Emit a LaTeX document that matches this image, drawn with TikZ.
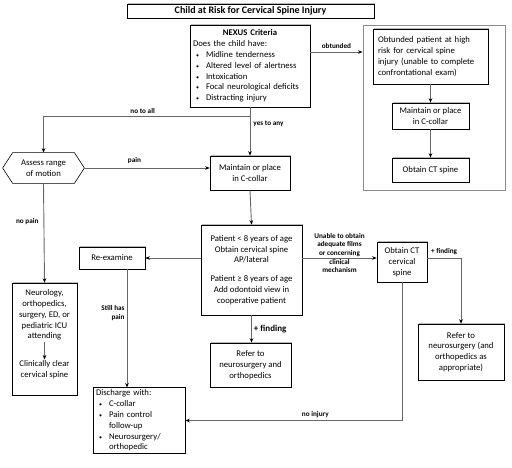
\documentclass[tikz,border=0pt]{standalone}
\usepackage{fontspec}
\setmainfont{Carlito}
\usetikzlibrary{arrows.meta,shadows}
\tikzset{every picture/.style={line width=0.75pt}}
\newcommand{\bul}{\makebox[10pt][l]{\fontsize{6}{6}\selectfont\textbullet}}

\begin{document}
\begin{tikzpicture}[x=1pt,y=1pt,yscale=-1,xscale=1,
  box/.style={draw=black, line width=0.6pt, fill=white, drop shadow={shadow xshift=1pt, shadow yshift=1pt, opacity=0.45, fill=black!60}, font=\fontsize{8.7}{10.8}\selectfont, inner sep=2pt, align=center},
  lbl/.style={font=\fontsize{7.2}{8.6}\selectfont\bfseries, inner sep=1pt},
  conn/.style={draw=black!60, line width=0.9pt},
  arr/.style={conn, -{Stealth[length=4.5pt,width=3.6pt,black]}}]
\useasboundingbox (0,0) rectangle (512,468);

% Title
\node[box, minimum width=247pt, minimum height=14pt, font=\fontsize{10}{12}\selectfont\bfseries] (title) at (250.5,11) {Child at Risk for Cervical Spine Injury};

% NEXUS criteria
\node[box, text width=114pt, inner xsep=3pt, minimum height=82pt, align=left] (nexus) at (250,66) {\makebox[\linewidth]{\bfseries NEXUS Criteria}\\ Does the child have:\\ \hspace*{3pt}\bul Midline tenderness\\ \hspace*{3pt}\bul Altered level of alertness\\ \hspace*{3pt}\bul Intoxication\\ \hspace*{3pt}\bul Focal neurological deficits\\ \hspace*{3pt}\bul Distracting injury};

% Obtunded branch
\node[draw=black!45, line width=0.9pt, minimum width=142pt, minimum height=165pt] (obtbox) at (434,107.5) {};
\node[box, text width=105pt, inner xsep=5pt, minimum height=55pt, align=left] (obt) at (430.5,56.5) {Obtunded patient at high\\ risk for cervical spine\\ injury (unable to complete\\ confrontational exam)};
\node[box, minimum width=77pt, minimum height=26pt] (obtcollar) at (430.5,116) {Maintain or place\\ in C-collar};
\node[box, minimum width=77pt, minimum height=24pt] (obtct) at (430.5,170) {Obtain CT spine};

% Assess range of motion
\node[minimum width=81pt, minimum height=30pt, inner sep=1pt, align=center, font=\fontsize{8.7}{10.8}\selectfont] (assess) at (43.5,168) {Assess range\\ of motion};
\draw[line width=0.6pt] (assess.west) -- ([xshift=10pt]assess.north west) -- ([xshift=-10pt]assess.north east) -- (assess.east) -- ([xshift=-10pt]assess.south east) -- ([xshift=10pt]assess.south west) -- cycle;

% Main column
\node[box, minimum width=80pt, minimum height=34pt] (collar) at (250,173) {Maintain or place\\ in C-collar};
\node[box, minimum width=101pt, minimum height=90pt] (patient) at (251.5,270) {Patient < 8 years of age\\ Obtain cervical spine\\ AP/lateral\\[8pt] Patient ≥ 8 years of age\\ Add odontoid view in\\ cooperative patient};
\node[box, minimum width=81pt, minimum height=44pt] (refer) at (250.5,365) {Refer to\\ neurosurgery and\\ orthopedics};
\node[box, minimum width=66pt, minimum height=22pt] (reexam) at (112,258) {Re-examine};

% Neurology box
\node[box, minimum width=65pt, minimum height=112pt] (neuro) at (44.5,339) {};
\node[inner sep=1pt, align=center, font=\fontsize{8.7}{10.8}\selectfont] (neurotxt) at (44.5,315) {Neurology,\\ orthopedics,\\ surgery, ED, or\\ pediatric ICU\\ attending};
\node[inner sep=1pt, align=center, font=\fontsize{8.7}{10.8}\selectfont] (clear) at (44.5,370) {Clinically clear\\ cervical spine};

% CT branch
\node[box, minimum width=50pt, minimum height=40pt] (ct) at (402,262) {Obtain CT\\ cervical\\ spine};
\node[box, minimum width=86pt, minimum height=56pt] (refercs) at (461,352) {Refer to\\ neurosurgery (and\\ orthopedics as\\ appropriate)};

% Discharge
\node[box, text width=86pt, inner xsep=3pt, minimum height=65pt, align=left] (discharge) at (139,420.5) {Discharge with:\\ \hspace*{3pt}\bul C-collar\\ \hspace*{3pt}\bul Pain control\\ \hspace*{13pt}follow-up\\ \hspace*{3pt}\bul Neurosurgery/\\ \hspace*{13pt}orthopedic};

% Connectors
\coordinate (split) at (250,116);
\draw[conn] (nexus.south) -- (split);
\draw[arr] (split) -| (assess.north) node[lbl, pos=0.26, above=1pt] {no to all};
\draw[arr] (split) -- (collar.north) node[lbl, pos=0.2, right=2pt] {yes to any};
\draw[arr] ([yshift=-14pt]nexus.east) -- ([yshift=-14pt]nexus.east -| obtbox.west) node[lbl, midway, above=2pt] {obtunded};
\draw[arr] (obt.south) -- (obtcollar.north);
\draw[arr] (obtcollar.south) -- (obtct.north);
\draw[arr] (assess.east) -- (assess.east -| collar.west) node[lbl, pos=0.4, above=3pt] {pain};
\draw[arr] (assess.south) -- (neuro.north) node[lbl, pos=0.38, left=4pt] {no pain};
\draw[arr] (neurotxt.south) -- (clear.north);
\draw[arr] (collar.south) -- (patient.north);
\draw[arr] (patient.west |- reexam.east) -- (reexam.east);
\draw[arr] (patient.east |- reexam.east) -- (ct.west |- reexam.east) node[lbl, midway, yshift=5pt, align=center] {Unable to obtain\\ adequate films\\ or concerning\\ clinical\\ mechanism};
\draw[arr] (ct.east |- reexam.east) -| (refercs.north) node[lbl, pos=0.25, above=2pt] {+ finding};
\draw[arr] (patient.south) -- (patient.south |- refer.north) node[midway, right=1pt, inner sep=1pt, font=\fontsize{9}{10}\selectfont\bfseries] {+ finding};
\draw[arr] ([xshift=15pt]reexam.south) -- ([xshift=15pt]reexam.south |- discharge.north) node[lbl, pos=0.37, left=1pt, align=right] {Still has\\ pain};
\draw[arr] (ct.south) |- (discharge.east) node[lbl, pos=0.7, above=1pt] {no injury};

\end{tikzpicture}
\end{document}
